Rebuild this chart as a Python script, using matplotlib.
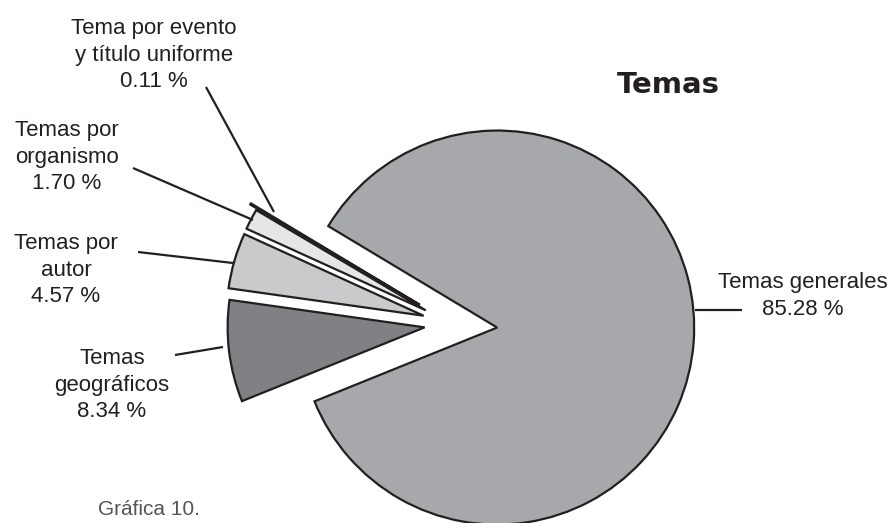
import matplotlib
matplotlib.use('Agg')
import matplotlib.pyplot as plt

# Datos de la gráfica
categorias = ['Temas generales', 'Tema por evento\ny título uniforme',
              'Temas por\norganismo', 'Temas por\nautor', 'Temas\ngeográficos']
porcentajes = [85.28, 0.11, 1.70, 4.57, 8.34]
colores = ['#a7a8ac', '#f2f2f3', '#e5e6e7', '#c9cacc', '#808185']
separacion = [0.23, 0.19, 0.15, 0.15, 0.14]

W, H = 892, 523
RADIO = 197


def py(y):
    # pasar de coordenadas de píxel (y hacia abajo) a datos
    return H - y


fig = plt.figure(figsize=(W / 100, H / 100), dpi=100, facecolor='white')
ax = fig.add_axes([0, 0, 1, 1])

# explode de matplotlib va en unidades de datos, se escala con el radio
ax.pie(porcentajes, colors=colores, explode=[s * RADIO for s in separacion],
       startangle=202.0, counterclock=True, center=(452, py(324)),
       radius=RADIO, frame=False,
       wedgeprops=dict(edgecolor='#231f20', linewidth=1.6, joinstyle='miter'))

ax.set_xlim(0, W)
ax.set_ylim(0, H)
ax.set_aspect('equal')
ax.axis('off')

fuente = dict(family=['Liberation Sans', 'DejaVu Sans'], fontsize=16,
              color='#231f20', ha='center', va='center', linespacing=1.37)

# etiquetas: texto, posición del texto y línea guía
etiquetas = [
    (f"{categorias[0]}\n{porcentajes[0]:.2f} %", (803, 296), [(695, 310), (742, 310)]),
    (f"{categorias[1]}\n{porcentajes[1]:.2f} %", (154, 55), [(206, 87), (274, 212)]),
    (f"{categorias[2]}\n{porcentajes[2]:.2f} %", (67, 157), [(133, 168), (253, 220)]),
    (f"{categorias[3]}\n{porcentajes[3]:.2f} %", (66, 270), [(138, 252), (233, 263)]),
    (f"{categorias[4]}\n{porcentajes[4]:.2f} %", (112, 385), [(175, 355), (223, 347)]),
]

for texto, (tx, ty), linea in etiquetas:
    ax.text(tx, py(ty), texto, **fuente)
    ax.plot([p[0] for p in linea], [py(p[1]) for p in linea],
            color='#231f20', linewidth=1.6, solid_capstyle='butt')

ax.text(668, py(85), 'Temas', family='DejaVu Sans', fontweight='bold',
        fontsize=21, color='#231f20', ha='center', va='center')

ax.text(98, py(515), 'Gráfica 10.', family=['Liberation Sans', 'DejaVu Sans'],
        fontsize=15, color='#555555', ha='left', va='baseline')

fig.savefig('out.png', dpi=100, facecolor='white')
